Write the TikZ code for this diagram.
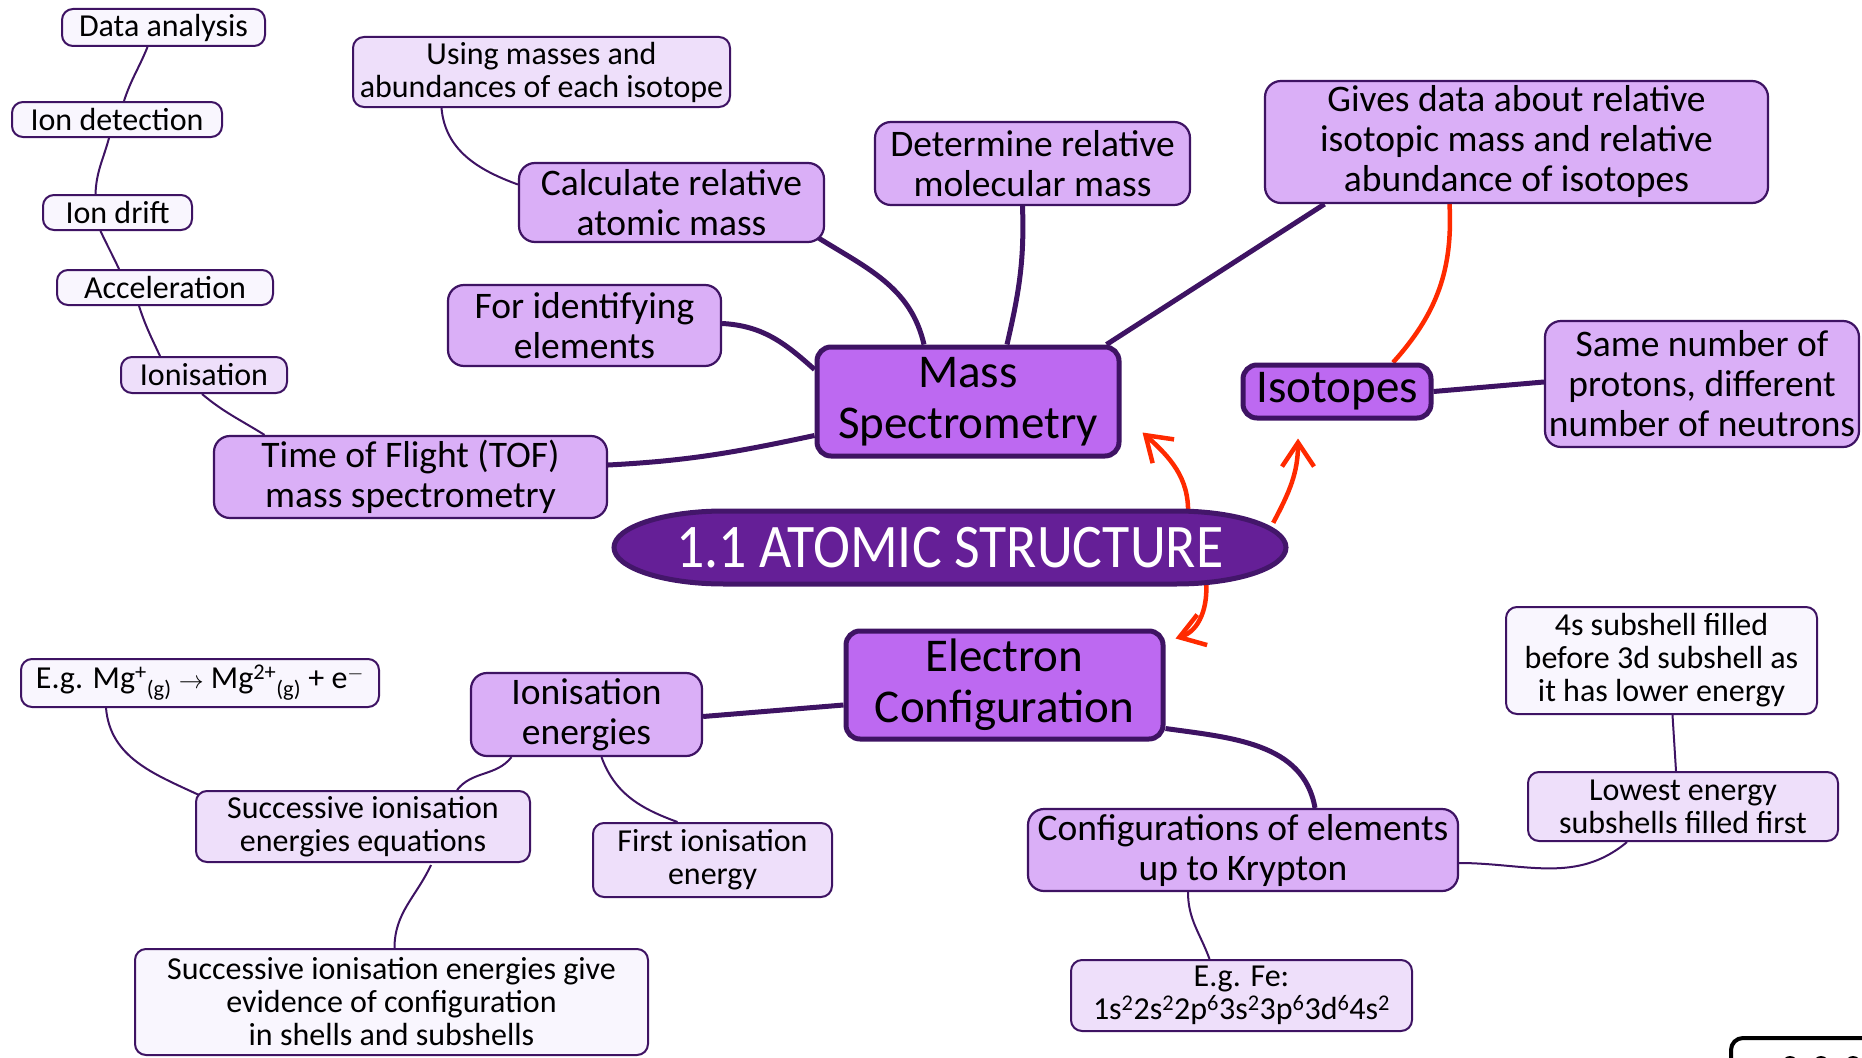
\documentclass[tikz,border=0pt]{standalone}
\usepackage{fontspec}
\setmainfont{Carlito}
\usepackage{graphicx}
\usetikzlibrary{arrows.meta}
\definecolor{dk}{HTML}{3E1363}
\definecolor{titlec}{HTML}{651F97}
\definecolor{titlebd}{HTML}{43166A}
\definecolor{mainc}{HTML}{BD69F1}
\definecolor{midc}{HTML}{DAAFF7}
\definecolor{lightc}{HTML}{EEDFFA}
\definecolor{palec}{HTML}{F9F6FE}
\definecolor{redc}{HTML}{FF2A00}
\pgfdeclarelayer{background}
\pgfsetlayers{background,main}
\begin{document}
\begin{tikzpicture}[x=1pt,y=1pt,
 box/.style={draw=dk, align=center, inner sep=0pt, text=black},
 sz/.style 2 args={minimum width=#1pt, minimum height=#2pt},
 smallbox/.style={box, line width=2pt, rounded corners=11pt, font=\fontsize{32}{33}\selectfont},
 palebox/.style={smallbox, fill=palec},
 lightbox/.style={smallbox, fill=lightc},
 midbox/.style={box, fill=midc, line width=2.2pt, rounded corners=16pt, font=\fontsize{37.5}{40}\selectfont},
 mainbox/.style={box, fill=mainc, line width=5pt, rounded corners=14pt, font=\fontsize{47}{51}\selectfont},
 conn/.style={draw=dk, line width=2pt},
 connthick/.style={draw=dk, line width=5pt},
 redline/.style={draw=redc, line width=4.5pt},
 redarrow/.style={redline, -{Straight Barb[length=24pt,width=32pt]}}
]
\useasboundingbox (0,0) rectangle (1862,-1057);

% title shape
\draw[fill=titlec, draw=titlebd, line width=5pt] (614,-547.5) arc[start angle=180,end angle=90,x radius=110,y radius=36.5] -- (1176,-511) arc[start angle=90,end angle=-90,x radius=110,y radius=36.5] -- (724,-584) arc[start angle=270,end angle=180,x radius=110,y radius=36.5] -- cycle;
\node[sz={672}{73}, inner sep=0pt, text=white, font=\fontsize{62}{62}\selectfont] (title) at (950,-547.5) {\scalebox{0.9}[1]{1.1 ATOMIC STRUCTURE}};

% Mass spectrometry branch
\node[palebox, sz={203}{37}] (dataA) at (163.5,-27.5) {Data analysis};
\node[palebox, sz={210}{35}] (iondet) at (117,-119.5) {Ion detection};
\node[palebox, sz={149}{35}] (iondrift) at (117.5,-212.5) {Ion drift};
\node[palebox, sz={216}{35}] (accel) at (165,-287.5) {Acceleration};
\node[lightbox, sz={166}{36}] (ionis) at (204,-375) {Ionisation};
\node[midbox, sz={393}{82}] (tof) at (410.5,-477) {Time of Flight (TOF)\\mass spectrometry};
\node[lightbox, sz={377}{70}] (using) at (541.5,-72) {Using masses and\\abundances of each isotope};
\node[midbox, sz={305}{79}] (calc) at (671.5,-202.5) {Calculate relative\\atomic mass};
\node[midbox, sz={273}{81}] (forid) at (584.5,-325.5) {For identifying\\elements};
\node[midbox, sz={315}{83}] (determ) at (1032.5,-163.5) {Determine relative\\molecular mass};
\node[midbox, sz={503}{122}] (gives) at (1516.5,-142) {Gives data about relative\\isotopic mass and relative\\abundance of isotopes};
\node[mainbox, sz={302}{109}] (mass) at (968,-401.5) {Mass\\Spectrometry};

% Isotopes
\node[mainbox, sz={188}{53}] (isotopes) at (1337,-391.5) {Isotopes};
\node[midbox, sz={314}{126}] (same) at (1702,-384) {Same number of\\protons, different\\number of neutrons};

% Electron configuration branch
\node[mainbox, sz={317}{108}] (electron) at (1004.5,-685) {Electron\\Configuration};
\node[midbox, sz={231}{83}] (ionE) at (586.5,-714.5) {Ionisation\\energies};
\node[palebox, sz={358}{48}] (mg) at (200,-683) {E.g. Mg\textsuperscript{+}\textsubscript{(g)} $\rightarrow$ Mg\textsuperscript{2+}\textsubscript{(g)} + e\textsuperscript{$-$}};
\node[lightbox, sz={334}{71}] (succeq) at (363,-826.5) {Successive ionisation\\energies equations};
\node[lightbox, sz={239}{74}] (firstIE) at (712.5,-860) {First ionisation\\energy};
\node[palebox, sz={513}{106}] (succgive) at (391.5,-1002) {Successive ionisation energies give\\evidence of configuration\\in shells and subshells};
\node[midbox, sz={430}{82}] (configs) at (1243,-850) {Configurations of elements\\up to Krypton};
\node[lightbox, sz={341}{71}] (fe) at (1241.5,-995.5) {E.g. Fe:\\1s\textsuperscript{2}2s\textsuperscript{2}2p\textsuperscript{6}3s\textsuperscript{2}3p\textsuperscript{6}3d\textsuperscript{6}4s\textsuperscript{2}};
\node[palebox, sz={311}{107}] (fours) at (1661.5,-660.5) {4s subshell filled\\before 3d subshell as\\it has lower energy};
\node[lightbox, sz={310}{69}] (lowest) at (1683,-806.5) {Lowest energy\\subshells filled first};

\begin{pgfonlayer}{background}
% thin connectors
\draw[conn] ([xshift=-16pt]dataA.south) to[out=-112,in=72] ([xshift=7pt]iondet.north);
\draw[conn] ([xshift=-8pt]iondet.south) to[out=-105,in=88] ([xshift=-22pt]iondrift.north);
\draw[conn] ([xshift=-17pt]iondrift.south) to[out=-65,in=115] ([xshift=-46pt]accel.north);
\draw[conn] ([xshift=-26pt]accel.south) to[out=-72,in=115] ([xshift=-44pt]ionis.north);
\draw[conn] ([xshift=-2pt]ionis.south) to[out=-40,in=148] ([xshift=-146pt]tof.north);
\draw[conn] ([xshift=-100pt]using.south) to[out=-85,in=160] ([yshift=18pt]calc.west);
\draw[conn] ([xshift=-75pt]ionE.south) to[out=-128,in=52] ([xshift=94pt]succeq.north);
\draw[conn] ([xshift=15pt]ionE.south) to[out=-70,in=160] ([xshift=-35pt]firstIE.north);
\draw[conn] ([xshift=-94pt]mg.south) to[out=-85,in=155] ([xshift=4pt,yshift=-5pt]succeq.north west);
\draw[conn] ([xshift=68pt,yshift=-2pt]succeq.south) to[out=-115,in=90] ([xshift=3pt]succgive.north);
\draw[conn] ([yshift=-13pt]configs.east) to[out=0,in=-140] ([xshift=-56pt]lowest.south);
\draw[conn] ([xshift=-7pt]lowest.north) -- ([xshift=11pt]fours.south);
\draw[conn] ([xshift=-55pt]configs.south) to[out=-90,in=110] ([xshift=-32pt]fe.north);
% thick connectors
\draw[connthick] ([xshift=-8pt,yshift=6pt]calc.south east) to[out=-32,in=103] ([xshift=-44pt]mass.north);
\draw[connthick] ([xshift=-10pt]determ.south) to[out=-88,in=77] ([xshift=39pt]mass.north);
\draw[connthick] ([yshift=2pt]forid.east) to[out=-3,in=138] ([yshift=32pt]mass.west);
\draw[connthick] ([yshift=12pt]tof.east) to[out=3,in=192] ([yshift=-34pt]mass.west);
\draw[connthick] ([xshift=-192pt]gives.south) -- ([xshift=-15pt]mass.north east);
\draw[connthick] (isotopes.east) -- ([yshift=2pt]same.west);
\draw[connthick] ([yshift=-20pt]electron.west) -- ([yshift=-2pt]ionE.east);
\draw[connthick] ([yshift=13pt]electron.south east) to[out=-8,in=100] ([xshift=72pt]configs.north);
% red connectors
\draw[redline] ([xshift=-67pt]gives.south) to[out=-87,in=48] ([xshift=56pt]isotopes.north);
\draw[redarrow] ([xshift=238pt,yshift=-3pt]title.north) to[out=88,in=-42] ([xshift=21pt,yshift=26pt]mass.south east);
\draw[redarrow] ([xshift=-13pt,yshift=-12pt]title.north east) to[out=62,in=-90] ([xshift=-39pt,yshift=-18pt]isotopes.south);
\draw[redarrow] ([xshift=256pt,yshift=3pt]title.south) to[out=-85,in=18] ([xshift=10pt,yshift=-10pt]electron.north east);
\end{pgfonlayer}

% partial logo at bottom right
\draw[line width=4pt, black, rounded corners=12pt] (1731,-1075) -- (1731,-1038) -- (1880,-1038);
\fill[black] (1790,-1064) circle (8);
\fill[black] (1821,-1064) circle (8);
\fill[black] (1853,-1064) circle (8);
\end{tikzpicture}
\end{document}
